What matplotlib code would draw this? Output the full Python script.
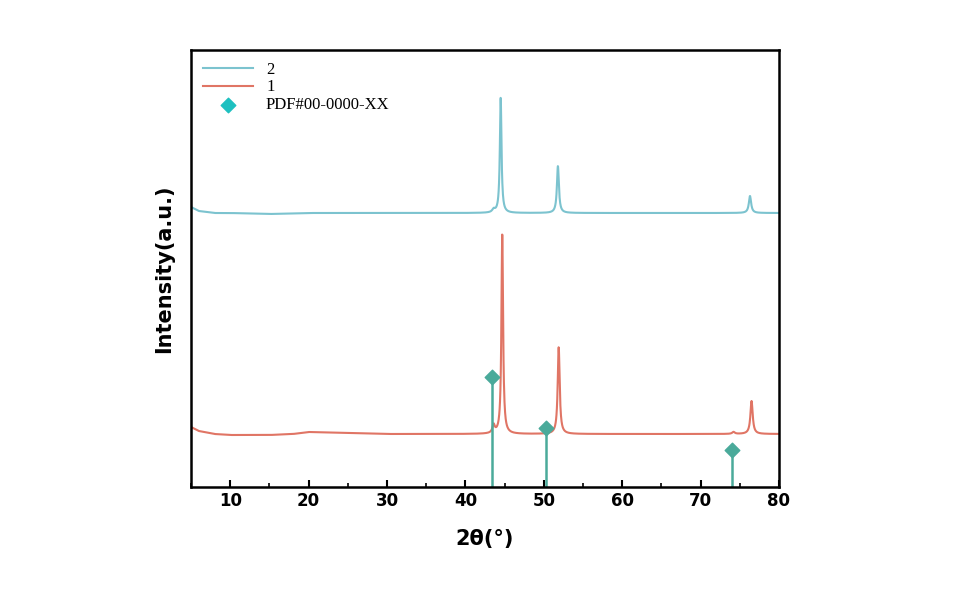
import numpy as np
import matplotlib
matplotlib.use("Agg")
import matplotlib.pyplot as plt

# baseline anchor points (2theta, intensity) and peaks (pos, height above base, fwhm)
base2_x = [5, 6, 8, 10, 15, 20, 30, 40, 50, 60, 70, 80]
base2_y = [280, 276, 274, 274, 273, 274, 274, 274, 274, 274, 274, 274]
peaks2_pos = [43.6, 44.5, 51.8, 76.3]
peaks2_h = [3, 116, 47, 17]
peaks2_w = [0.4, 0.25, 0.3, 0.35]

base1_x = [5, 6, 8, 10, 15, 18, 20, 25, 30, 40, 50, 60, 70, 80]
base1_y = [60, 56, 53, 52, 52, 53, 55, 54, 53, 53, 53, 53, 53, 53]
peaks1_pos = [43.6, 44.7, 51.9, 74.2, 76.5]
peaks1_h = [8, 201, 87, 2, 33]
peaks1_w = [0.35, 0.25, 0.3, 0.4, 0.35]

pdf_pos = [43.4, 50.3, 74.0]
pdf_h = [110, 59, 37]

def pattern(bx, by, pp, ph, pw):
    x = np.linspace(5, 80, 3000)
    y = np.interp(x, bx, by)
    for p, h, w in zip(pp, ph, pw):
        y = y + h / (1 + ((x - p) / (w / 2)) ** 2)
    return x, y

fig = plt.figure(figsize=(9.6, 6), dpi=100)
ax = fig.add_axes([191/960, 1-487/600, 588/960, 437/600])
x2, y2 = pattern(base2_x, base2_y, peaks2_pos, peaks2_h, peaks2_w)
x1, y1 = pattern(base1_x, base1_y, peaks1_pos, peaks1_h, peaks1_w)
c2 = "#7cc3cf"; c1 = "#e07565"; cp = "#4aaa9a"
ax.plot(x2, y2, color=c2, lw=1.5, label="2")
ax.plot(x1, y1, color=c1, lw=1.5, label="1")
ax.vlines(pdf_pos, 0, pdf_h, color=cp, lw=1.8)
ax.scatter(pdf_pos, pdf_h, marker="D", s=55, color=cp, zorder=5)
ax.scatter([], [], marker="D", s=55, color="#1ec0c0", label="PDF#00-0000-XX")
ax.set_xlim(5, 80); ax.set_ylim(0, 437)
ax.set_yticks([])
ax.set_xticks(range(10, 81, 10))
ax.set_xticks(range(5, 81, 10), minor=True)
for s in ax.spines.values():
    s.set_linewidth(1.8)
ax.tick_params(axis="x", which="major", length=5, width=1.5, direction="in")
ax.tick_params(axis="x", which="minor", length=3, width=1.2, direction="in")
for t in ax.get_xticklabels():
    t.set_fontweight("bold"); t.set_fontsize(12)
ax.set_xlabel("2θ(°)", fontsize=15, fontweight="bold", labelpad=14)
ax.set_ylabel("Intensity(a.u.)", fontsize=15, fontweight="bold", labelpad=12)
leg = ax.legend(loc="upper left", frameon=False, prop={"family": "Liberation Serif", "size": 12},
                handlelength=3, borderaxespad=0.3, labelspacing=0.1)
fig.savefig("out.png", dpi=100)
